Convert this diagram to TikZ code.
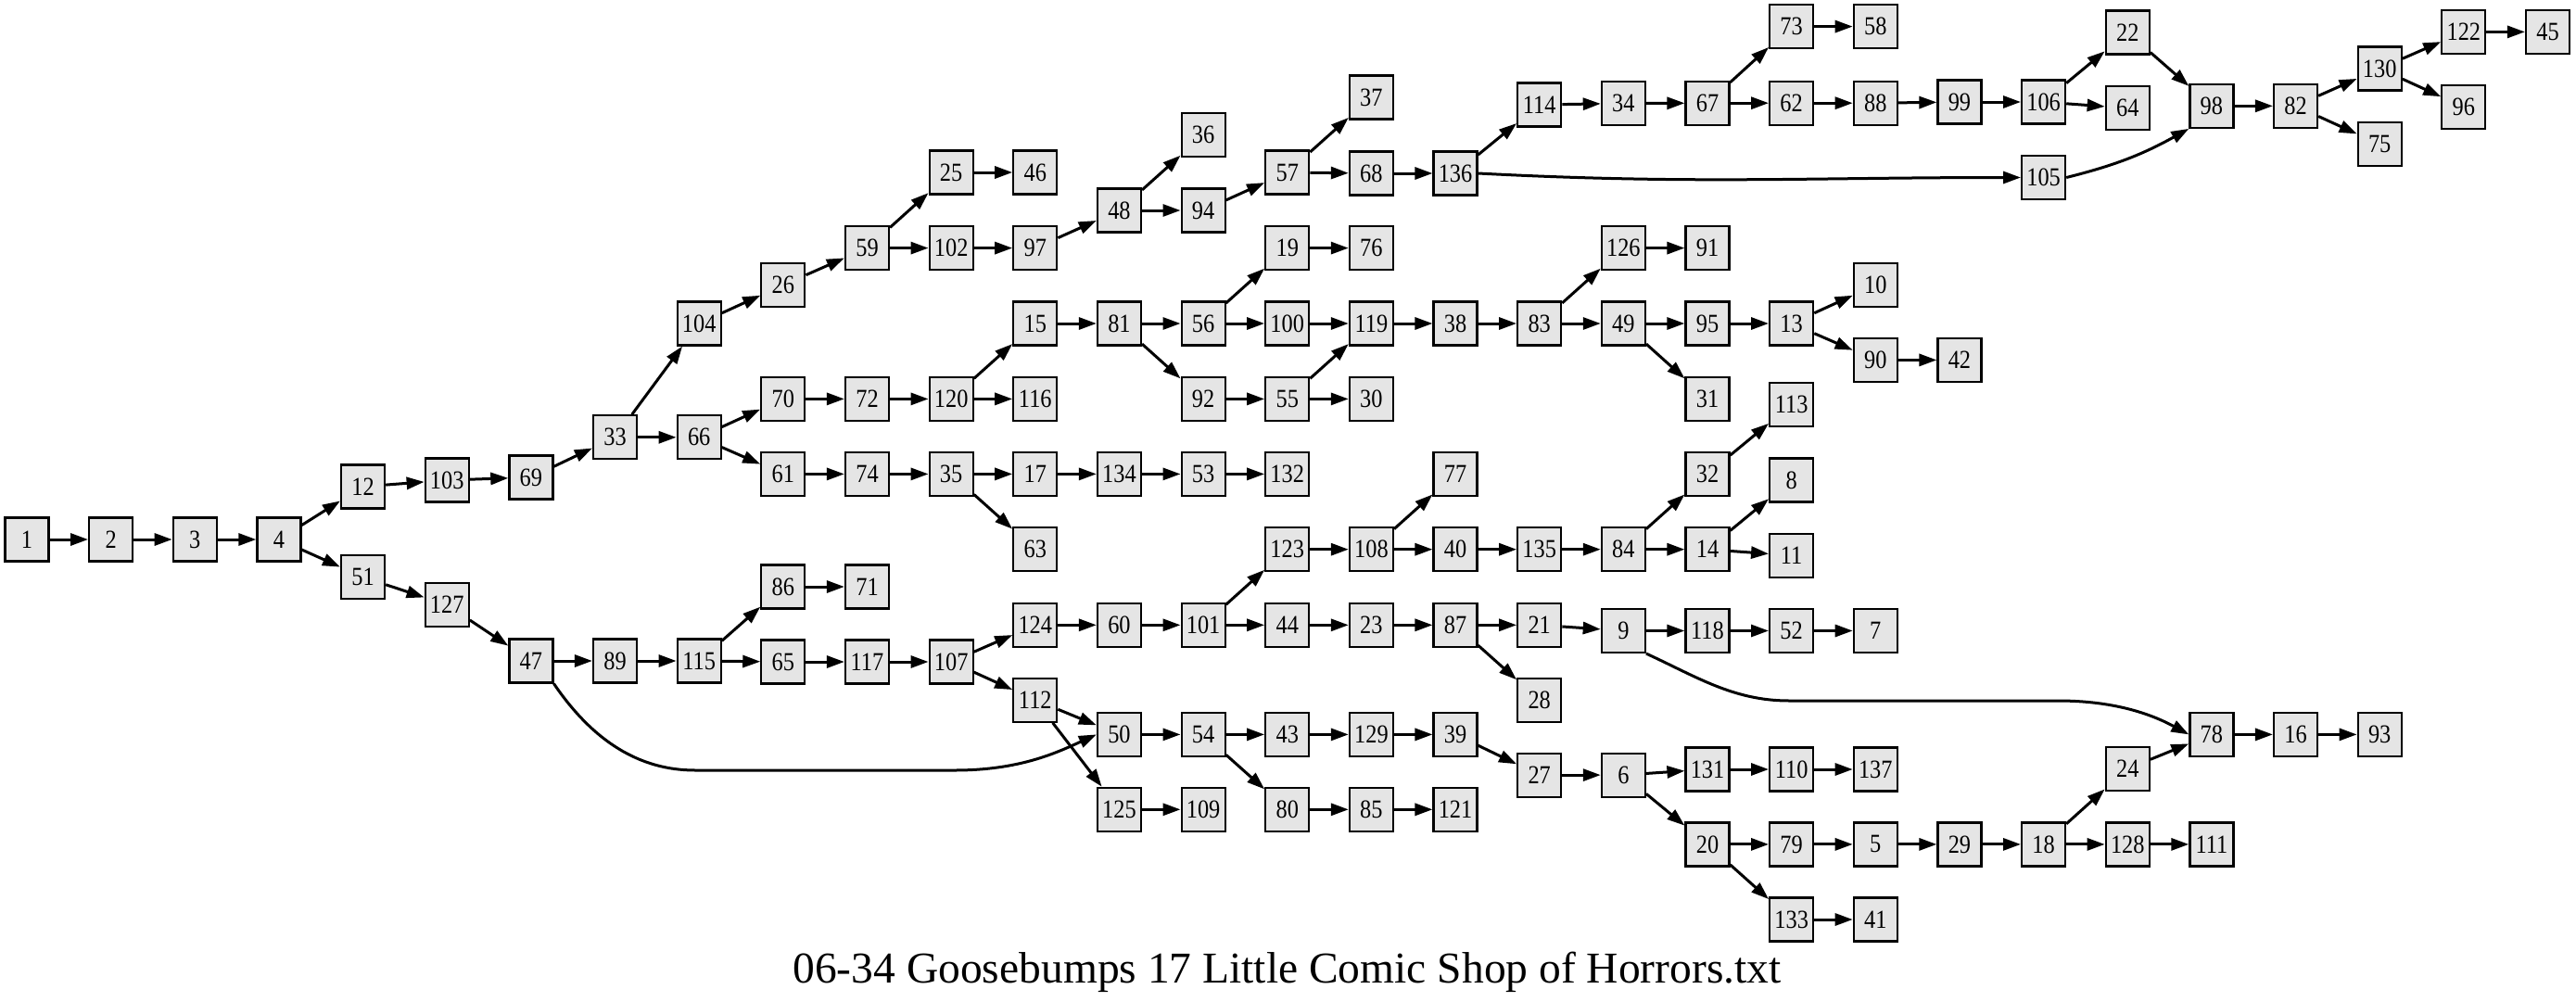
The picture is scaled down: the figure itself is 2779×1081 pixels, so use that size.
\documentclass[tikz,border=0pt]{standalone}
\usepackage{fontspec}
\setmainfont{Liberation Serif}
\usetikzlibrary{arrows.meta}
\definecolor{boxfill}{HTML}{E5E5E5}
\tikzset{
  box/.style={draw=black, line width=2.2pt, fill=boxfill, minimum size=47pt, inner sep=0pt,
    font=\fontsize{28}{28}\selectfont},
  edge/.style={line width=3pt, -{Triangle[length=19pt,width=13pt]}},
}
\newcommand\nd[3]{\node[box] (n#1) at ({29+90.65*#2},#3) {\scalebox{0.87}[1]{#1}};}
\begin{document}
\begin{tikzpicture}[x=1pt,y=-1pt]
\useasboundingbox (0,0) rectangle (2779,1081);
\nd{1}{0}{582}
\nd{2}{1}{582}
\nd{3}{2}{582}
\nd{4}{3}{582}
\nd{12}{4}{525}
\nd{51}{4}{622.6}
\nd{103}{5}{518}
\nd{127}{5}{652.6}
\nd{69}{6}{515}
\nd{47}{6}{713}
\nd{33}{7}{471.8}
\nd{89}{7}{713}
\nd{104}{8}{349}
\nd{66}{8}{471.8}
\nd{115}{8}{713}
\nd{26}{9}{307.5}
\nd{70}{9}{430.4}
\nd{61}{9}{511.4}
\nd{86}{9}{633}
\nd{65}{9}{714}
\nd{59}{10}{267.6}
\nd{72}{10}{430.4}
\nd{74}{10}{511.4}
\nd{71}{10}{633}
\nd{117}{10}{714}
\nd{25}{11}{186}
\nd{102}{11}{267.6}
\nd{120}{11}{430.4}
\nd{35}{11}{511.4}
\nd{107}{11}{714}
\nd{46}{12}{186}
\nd{97}{12}{267.6}
\nd{15}{12}{349}
\nd{116}{12}{430.4}
\nd{17}{12}{511.4}
\nd{63}{12}{592.7}
\nd{124}{12}{674.3}
\nd{112}{12}{755.2}
\nd{48}{13}{227}
\nd{81}{13}{349}
\nd{134}{13}{511.4}
\nd{60}{13}{674.3}
\nd{50}{13}{792.4}
\nd{125}{13}{873.3}
\nd{36}{14}{145.7}
\nd{94}{14}{227}
\nd{56}{14}{349}
\nd{92}{14}{430.4}
\nd{53}{14}{511.4}
\nd{101}{14}{674.3}
\nd{54}{14}{792.4}
\nd{109}{14}{873.3}
\nd{57}{15}{186}
\nd{19}{15}{267.6}
\nd{100}{15}{349}
\nd{55}{15}{430.4}
\nd{132}{15}{511.4}
\nd{123}{15}{592.7}
\nd{44}{15}{674.3}
\nd{43}{15}{792.4}
\nd{80}{15}{873.3}
\nd{37}{16}{105}
\nd{68}{16}{187}
\nd{76}{16}{267.6}
\nd{119}{16}{349}
\nd{30}{16}{430.4}
\nd{108}{16}{592.7}
\nd{23}{16}{674.3}
\nd{129}{16}{792.4}
\nd{85}{16}{873.3}
\nd{136}{17}{187}
\nd{38}{17}{349}
\nd{77}{17}{511.4}
\nd{40}{17}{592.7}
\nd{87}{17}{674.3}
\nd{39}{17}{792.4}
\nd{121}{17}{873.3}
\nd{114}{18}{113}
\nd{83}{18}{349}
\nd{135}{18}{592.7}
\nd{21}{18}{674.3}
\nd{28}{18}{755.2}
\nd{27}{18}{836.1}
\nd{34}{19}{111.5}
\nd{126}{19}{267.6}
\nd{49}{19}{349}
\nd{84}{19}{592.7}
\nd{9}{19}{680.5}
\nd{6}{19}{836.1}
\nd{67}{20}{111.2}
\nd{91}{20}{267.6}
\nd{95}{20}{349}
\nd{31}{20}{430.4}
\nd{32}{20}{511.4}
\nd{14}{20}{592.7}
\nd{118}{20}{680.5}
\nd{131}{20}{830}
\nd{20}{20}{910.9}
\nd{73}{21}{28.6}
\nd{62}{21}{111.2}
\nd{13}{21}{349}
\nd{113}{21}{436.6}
\nd{8}{21}{518}
\nd{11}{21}{599.2}
\nd{52}{21}{680.5}
\nd{110}{21}{830}
\nd{79}{21}{910.9}
\nd{133}{21}{992}
\nd{58}{22}{28.6}
\nd{88}{22}{111.2}
\nd{10}{22}{307.5}
\nd{90}{22}{388.4}
\nd{7}{22}{680.5}
\nd{137}{22}{830}
\nd{5}{22}{910.9}
\nd{41}{22}{992}
\nd{99}{23}{110}
\nd{42}{23}{388.4}
\nd{29}{23}{910.9}
\nd{106}{24}{110}
\nd{105}{24}{191.5}
\nd{18}{24}{910.9}
\nd{22}{25}{35}
\nd{64}{25}{116.7}
\nd{24}{25}{829.3}
\nd{128}{25}{910.9}
\nd{98}{26}{114.3}
\nd{78}{26}{792.4}
\nd{111}{26}{910.9}
\nd{82}{27}{114.3}
\nd{16}{27}{792.4}
\nd{130}{28}{74}
\nd{75}{28}{155.6}
\nd{93}{28}{792.4}
\nd{122}{29}{34.4}
\nd{96}{29}{115.4}
\nd{45}{30}{34.4}
\foreach \a/\b in {1/2,2/3,3/4,4/12,4/51,12/103,103/69,69/33,33/104,33/66,104/26,26/59,59/25,59/102,25/46,102/97,97/48,48/36,48/94,94/57,57/37,57/68,68/136,136/114,114/34,34/67,67/73,67/62,73/58,62/88,88/99,99/106,106/22,106/64,22/98,98/82,82/130,82/75,130/122,130/96,122/45,
66/70,66/61,70/72,72/120,120/15,120/116,15/81,81/56,81/92,56/19,56/100,19/76,100/119,92/55,55/119,55/30,119/38,38/83,83/126,83/49,126/91,49/95,49/31,95/13,13/10,13/90,90/42,
61/74,74/35,35/17,35/63,17/134,134/53,53/132,
51/127,127/47,47/89,89/115,115/86,115/65,86/71,65/117,117/107,107/124,107/112,124/60,60/101,101/123,101/44,123/108,108/77,108/40,40/135,135/84,84/32,84/14,32/113,14/8,14/11,44/23,23/87,87/21,87/28,21/9,9/118,118/52,52/7,
112/50,112/125,125/109,50/54,54/43,54/80,43/129,129/39,39/27,27/6,6/131,6/20,131/110,110/137,20/79,20/133,79/5,5/29,29/18,18/24,18/128,24/78,128/111,78/16,16/93,133/41,80/85,85/121}
  \draw[edge] (n\a) -- (n\b);
\draw[edge] (n136.east) to[out=-3,in=180] (n105.west);
\draw[edge] (n105.east) to[out=14,in=209] (n98.south west);
\draw[edge] (n47.south east) .. controls (640,800) and (690,831) .. (750,831) -- (1030,831) .. controls (1100,831) and (1140,812) .. (n50.west);
\draw[edge] (n9.south east) .. controls (1830,730) and (1870,756) .. (1930,756) -- (2220,756) .. controls (2280,756) and (2320,770) .. (n78.west);
\node[anchor=base, font=\fontsize{47.5}{47.5}\selectfont] (title) at (1388.5,1060) {06-34 Goosebumps 17 Little Comic Shop of Horrors.txt};
\end{tikzpicture}
\end{document}
